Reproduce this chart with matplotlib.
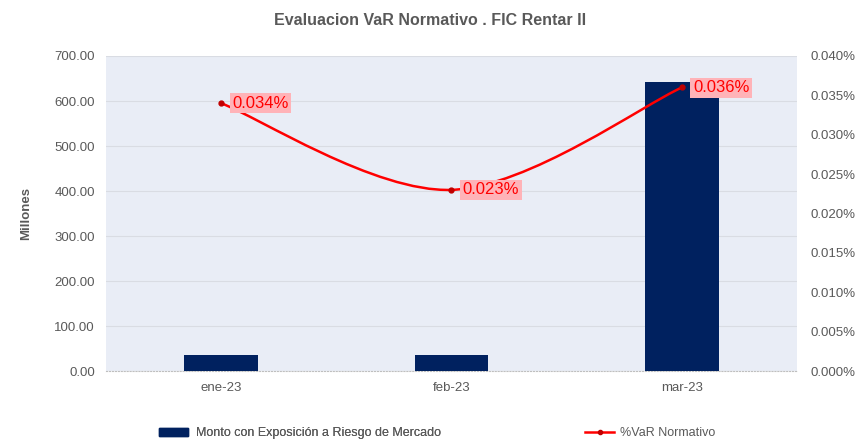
import numpy as np
import matplotlib
matplotlib.use("Agg")
from matplotlib import pyplot as plt
from matplotlib.path import Path
from matplotlib.patches import PathPatch, Patch
from matplotlib.lines import Line2D
from matplotlib.ticker import FuncFormatter, MultipleLocator

plt.rcParams['font.family'] = ['Liberation Sans', 'DejaVu Sans']

meses = ["ene-23", "feb-23", "mar-23"]
monto = [35, 35, 642]           # millones
var_pct = [0.034, 0.023, 0.036]  # %

gris = "#595959"
azul = "#00215F"
rojo = "#FF0000"
fig = plt.figure(figsize=(8.6, 4.44), dpi=100)
ax = fig.add_axes([106 / 860, 1 - 371 / 444, 691 / 860, 315 / 444])
ax2 = ax.twinx()

x = np.arange(len(meses))
ax.set_facecolor("#E9EDF6")
ax.bar(x, monto, width=0.32, color=azul, zorder=3)
ax.set_xlim(-0.5, 2.5)
ax.set_ylim(0, 700)
ax.yaxis.set_major_locator(MultipleLocator(100))
ax.yaxis.set_major_formatter(FuncFormatter(lambda v, p: f"{v:.2f}"))
ax.set_xticks(x)
ax.set_xticklabels(meses)
ax.grid(axis="y", color="#D9DCE3", linewidth=0.8, zorder=0)
ax.set_axisbelow(True)
for s in ["top", "right", "left"]:
    ax.spines[s].set_visible(False)
ax.spines["bottom"].set_color("#BFBFBF")
ax.spines["bottom"].set_linestyle(":")
ax.tick_params(length=0, colors=gris, labelsize=9.5, pad=8)
ax.set_ylabel("Millones", color=gris, fontsize=9.5, fontweight="bold", labelpad=16)

ax2.set_ylim(0, 0.040)
ax2.yaxis.set_major_locator(MultipleLocator(0.005))
ax2.yaxis.set_major_formatter(FuncFormatter(lambda v, p: f"{v:.3f}%"))
for s in ["top", "right", "left", "bottom"]:
    ax2.spines[s].set_visible(False)
ax2.tick_params(length=0, colors=gris, labelsize=9.5, pad=10)

# linea suavizada (Catmull-Rom -> Bezier) entre los puntos
pts = np.column_stack([x, var_pct]).astype(float)
verts = [tuple(pts[0])]
codes = [Path.MOVETO]
n = len(pts)
for i in range(n - 1):
    p0 = pts[max(i - 1, 0)]
    p1 = pts[i]
    p2 = pts[i + 1]
    p3 = pts[min(i + 2, n - 1)]
    c1 = p1 + (p2 - p0) / 6
    c2 = p2 - (p3 - p1) / 6
    verts += [tuple(c1), tuple(c2), tuple(p2)]
    codes += [Path.CURVE4] * 3
ax2.add_patch(PathPatch(Path(verts, codes), facecolor="none", edgecolor=rojo,
                        linewidth=1.8, zorder=4))
ax2.plot(x, var_pct, "o", color="#C00000", markersize=3.5, zorder=5)
for xi, v in zip(x, var_pct):
    ax2.annotate(f"{v:.3f}%", (xi, v), xytext=(8, 0), textcoords="offset points",
                 ha="left", va="center", color=rojo, fontsize=12,
                 bbox=dict(boxstyle="square,pad=0.15", fc="#FFB3B8", ec="none"), zorder=6)

fig.suptitle("Evaluacion VaR Normativo . FIC Rentar II", x=0.5, y=0.97,
             fontsize=11.5, fontweight="bold", color=gris)

ly = 1 - 433 / 444
leg1 = fig.legend([Patch(color=azul)], ["Monto con Exposición a Riesgo de Mercado"],
                  loc="center left", bbox_to_anchor=(148 / 860, ly), frameon=False,
                  handlelength=2.3, handleheight=0.6, handletextpad=0.6,
                  fontsize=9, labelcolor=gris)
fig.legend([Line2D([0], [0], color=rojo, lw=1.8, marker="o", markersize=3,
                   markerfacecolor="#C00000", markeredgecolor="#C00000")],
           ["%VaR Normativo"], loc="center left", bbox_to_anchor=(574 / 860, ly),
           frameon=False, handlelength=2.3, handletextpad=0.5,
           fontsize=9, labelcolor=gris)
fig.add_artist(leg1)

fig.savefig("out.png", dpi=100)
